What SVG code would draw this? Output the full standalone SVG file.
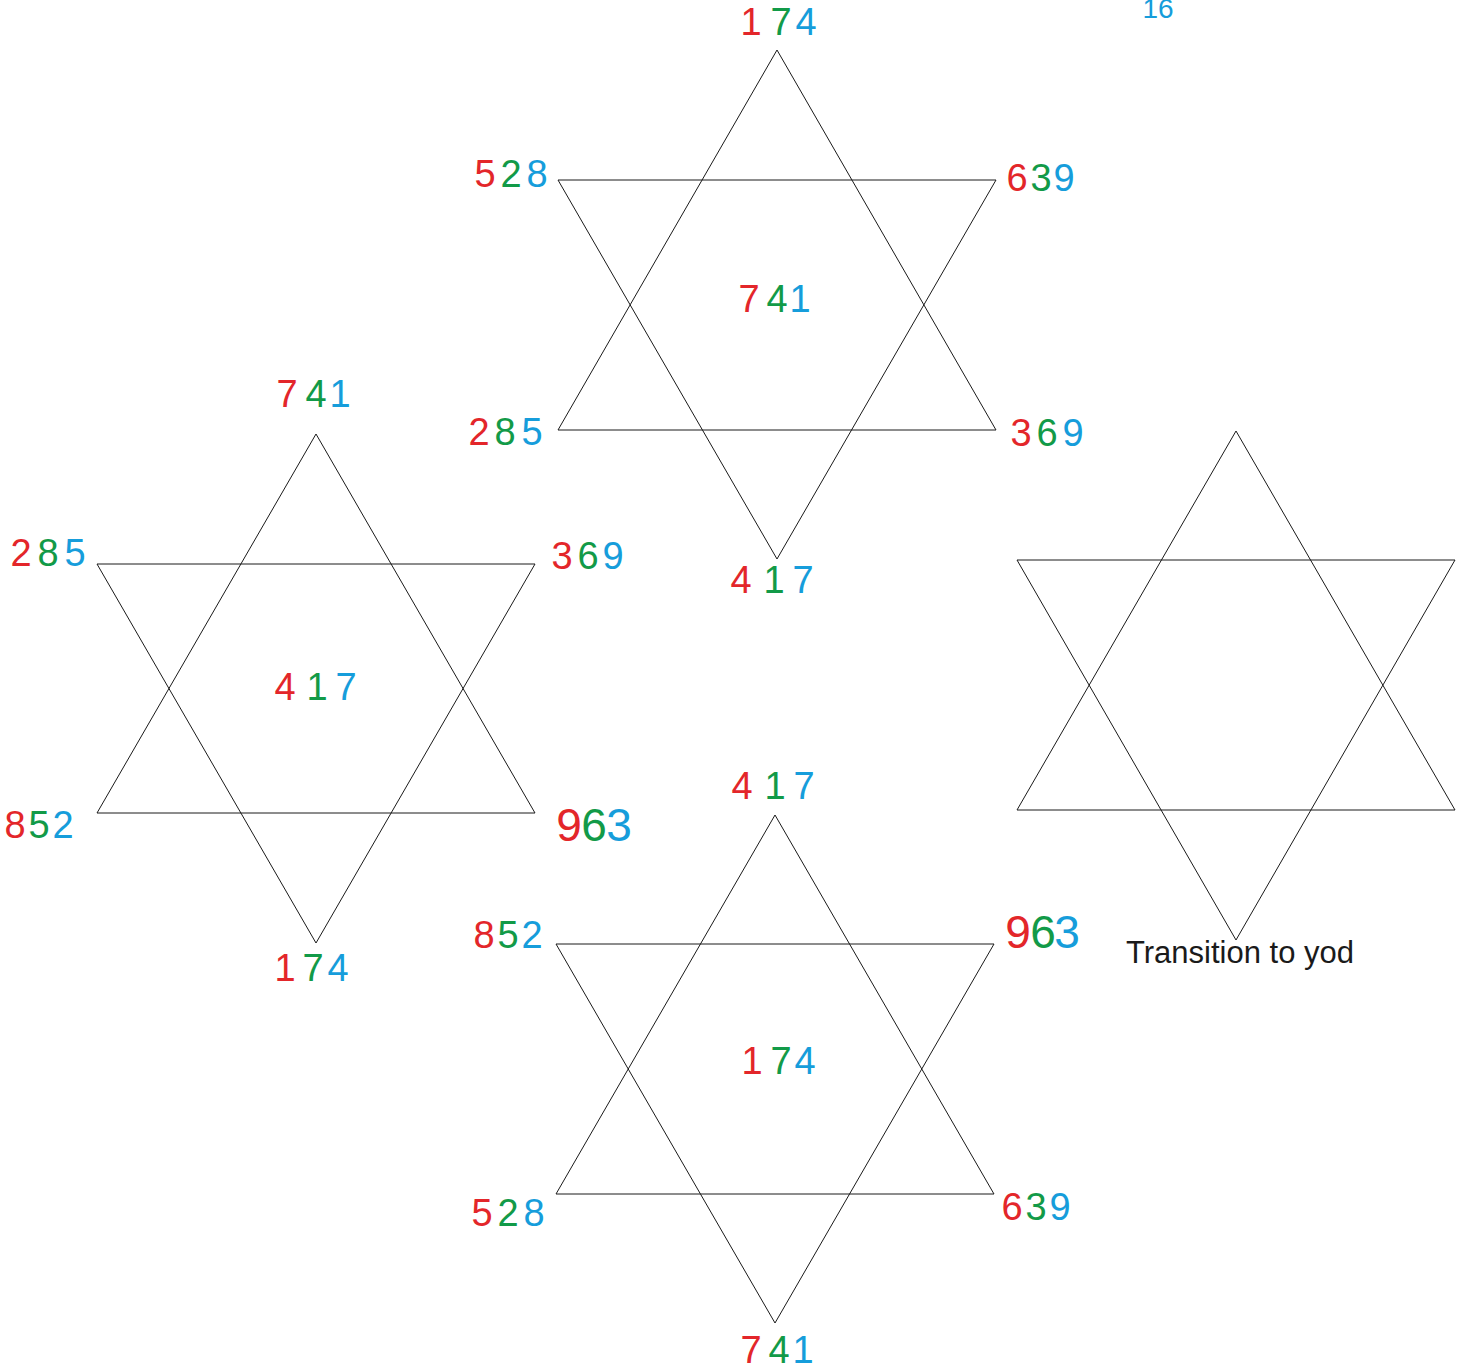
<svg xmlns="http://www.w3.org/2000/svg" width="1467" height="1368" viewBox="0 0 1467 1368">
<style>
.s{fill:none;stroke:#1a1a1a;stroke-width:1}
text{font-family:"Liberation Sans",Arial,sans-serif;font-size:38px;text-anchor:middle}
.r{fill:#e3262a}.g{fill:#129a48}.b{fill:#169ddb}
.big{font-size:46px}
</style>
<rect width="1467" height="1368" fill="#fff"/>
<g id="connectors"></g>
<g id="star-top">
<polygon class="s" points="777,50 996,430 558,430"/>
<polygon class="s" points="558,180 996,180 777,559"/>
</g>
<g id="star-left">
<polygon class="s" points="316,434 535,813 97,813"/>
<polygon class="s" points="97,564 535,564 316,943"/>
</g>
<g id="star-bottom">
<polygon class="s" points="775,815 994,1194 556,1194"/>
<polygon class="s" points="556,944 994,944 775,1323"/>
</g>
<g id="star-right">
<polygon class="s" points="1236,431 1455,810 1017,810"/>
<polygon class="s" points="1017,560 1455,560 1236,940"/>
</g>
<g id="labels">
<text class="b" x="1158" y="18" style="font-size:28px">16</text>
<!-- top star -->
<text y="35"><tspan class="r" x="751">1</tspan><tspan class="g" x="781">7</tspan><tspan class="b" x="806">4</tspan></text>
<text y="187"><tspan class="r" x="485">5</tspan><tspan class="g" x="511">2</tspan><tspan class="b" x="537">8</tspan></text>
<text y="191"><tspan class="r" x="1017">6</tspan><tspan class="g" x="1041">3</tspan><tspan class="b" x="1064">9</tspan></text>
<text y="312"><tspan class="r" x="749">7</tspan><tspan class="g" x="777">4</tspan><tspan class="b" x="800">1</tspan></text>
<text y="445"><tspan class="r" x="479">2</tspan><tspan class="g" x="505">8</tspan><tspan class="b" x="532">5</tspan></text>
<text y="446"><tspan class="r" x="1021">3</tspan><tspan class="g" x="1047">6</tspan><tspan class="b" x="1073">9</tspan></text>
<text y="593"><tspan class="r" x="741">4</tspan><tspan class="g" x="774">1</tspan><tspan class="b" x="803">7</tspan></text>
<!-- left star -->
<text y="407"><tspan class="r" x="287">7</tspan><tspan class="g" x="316">4</tspan><tspan class="b" x="340">1</tspan></text>
<text y="566"><tspan class="r" x="21">2</tspan><tspan class="g" x="48">8</tspan><tspan class="b" x="75">5</tspan></text>
<text y="569"><tspan class="r" x="562">3</tspan><tspan class="g" x="588">6</tspan><tspan class="b" x="613">9</tspan></text>
<text y="700"><tspan class="r" x="285">4</tspan><tspan class="g" x="317">1</tspan><tspan class="b" x="346">7</tspan></text>
<text y="838"><tspan class="r" x="15">8</tspan><tspan class="g" x="39">5</tspan><tspan class="b" x="63">2</tspan></text>
<text y="841" class="big"><tspan class="r" x="569">9</tspan><tspan class="g" x="594">6</tspan><tspan class="b" x="619">3</tspan></text>
<text y="981"><tspan class="r" x="285">1</tspan><tspan class="g" x="313">7</tspan><tspan class="b" x="338">4</tspan></text>
<!-- bottom star -->
<text y="799"><tspan class="r" x="742">4</tspan><tspan class="g" x="775">1</tspan><tspan class="b" x="804">7</tspan></text>
<text y="948"><tspan class="r" x="484">8</tspan><tspan class="g" x="508">5</tspan><tspan class="b" x="532">2</tspan></text>
<text y="948" class="big"><tspan class="r" x="1018">9</tspan><tspan class="g" x="1043">6</tspan><tspan class="b" x="1067">3</tspan></text>
<text y="1074"><tspan class="r" x="752">1</tspan><tspan class="g" x="781">7</tspan><tspan class="b" x="805">4</tspan></text>
<text y="1226"><tspan class="r" x="482">5</tspan><tspan class="g" x="508">2</tspan><tspan class="b" x="534">8</tspan></text>
<text y="1220"><tspan class="r" x="1012">6</tspan><tspan class="g" x="1036">3</tspan><tspan class="b" x="1060">9</tspan></text>
<text y="1363"><tspan class="r" x="751">7</tspan><tspan class="g" x="779">4</tspan><tspan class="b" x="803">1</tspan></text>
<!-- right star -->
<text x="1240" y="963" style="font-size:31px;fill:#1a1a1a">Transition to yod</text>
</g>
</svg>
